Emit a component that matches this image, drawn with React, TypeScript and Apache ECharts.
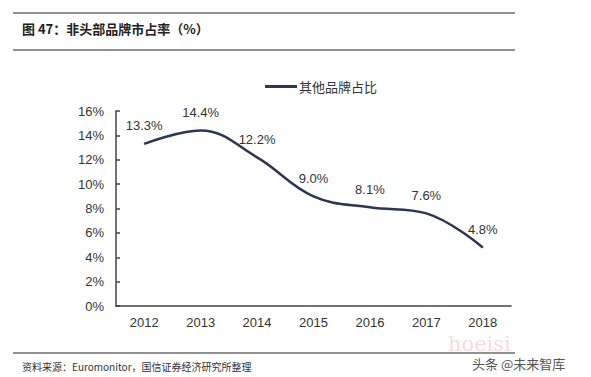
import React, { useEffect, useRef } from "react";
import * as echarts from "echarts";

const years = ["2012", "2013", "2014", "2015", "2016", "2017", "2018"];
const otherShare = [13.3, 14.4, 12.2, 9.0, 8.1, 7.6, 4.8];
const seriesName = "其他品牌占比";
const titleText = "图 47：非头部品牌市占率（%）";
const sourceText = "资料来源：Euromonitor，国信证券经济研究所整理";

export default function App() {
  const ref = useRef<HTMLDivElement>(null);
  useEffect(() => {
    if (!ref.current) return;
    const chart = echarts.init(ref.current, null, { renderer: "svg" });
    const axisColor = "#444";
    const textColor = "#333";
    chart.setOption({
      animation: false,
      backgroundColor: "#fff",
      textStyle: { fontFamily: "Arial, 'Liberation Sans', 'Noto Sans CJK SC'" },
      grid: { left: 116, right: 80, top: 111, bottom: 71 },
      legend: {
        data: [seriesName],
        left: 260,
        top: 75,
        icon: "rect",
        itemWidth: 32,
        itemHeight: 3,
        itemGap: 2,
        textStyle: { fontSize: 13, color: textColor, fontFamily: "'Noto Sans CJK SC'", padding: [0, 0, 0, -3] },
      },
      xAxis: {
        type: "category",
        data: years,
        boundaryGap: true,
        axisLine: { lineStyle: { color: axisColor, width: 1.5 } },
        axisTick: { inside: true, length: 4, lineStyle: { color: axisColor, width: 1.5 } },
        axisLabel: { fontSize: 13, color: textColor, margin: 10 },
      },
      yAxis: {
        type: "value",
        min: 0,
        max: 16,
        interval: 2,
        axisLine: { show: true, lineStyle: { color: axisColor, width: 1.5 } },
        axisTick: { show: true, inside: true, length: 4, lineStyle: { color: axisColor, width: 1.5 } },
        splitLine: { show: false },
        axisLabel: { fontSize: 13, color: textColor, margin: 12, formatter: "{value}%" },
      },
      series: [
        {
          name: seriesName,
          type: "line",
          data: otherShare,
          smooth: 0.4,
          symbol: "circle",
          symbolSize: 1,
          lineStyle: { color: "#2b3652", width: 2.5 },
          itemStyle: { color: "#2b3652" },
          label: {
            show: true,
            position: "top",
            distance: 11,
            fontSize: 13,
            color: textColor,
            formatter: (p: any) => Number(p.value).toFixed(1) + "%",
          },
        },
      ],
      graphic: [
        { type: "line", shape: { x1: 13, y1: 13, x2: 515, y2: 13 }, style: { stroke: "#222", lineWidth: 1.2 } },
        { type: "line", shape: { x1: 13, y1: 50, x2: 515, y2: 50 }, style: { stroke: "#222", lineWidth: 1.2 } },
        {
          type: "text",
          left: 22,
          top: 22,
          style: { text: titleText, fontSize: 13, fontWeight: "bold", fill: "#222", fontFamily: "'Noto Sans CJK SC'" },
        },
        { type: "line", shape: { x1: 13, y1: 353, x2: 515, y2: 353 }, style: { stroke: "#222", lineWidth: 1 } },
        {
          type: "text",
          left: 22,
          top: 361,
          style: { text: sourceText, fontSize: 10, fill: "#333", fontFamily: "'Noto Sans CJK SC'" },
        },
        {
          type: "text",
          left: 448,
          top: 333,
          style: { text: "hoeisi", fontSize: 21, fill: "rgba(230,150,160,0.35)", fontFamily: "'DejaVu Serif'" },
        },
        {
          type: "text",
          left: 472,
          top: 357,
          style: { text: "头条 @未来智库", fontSize: 13, fill: "#555", fontFamily: "'Noto Sans CJK SC'" },
        },
      ],
    });
    return () => chart.dispose();
  }, []);
  return <div ref={ref} style={{ position: "fixed", left: 0, top: 0, width: 591, height: 377 }} />;
}
